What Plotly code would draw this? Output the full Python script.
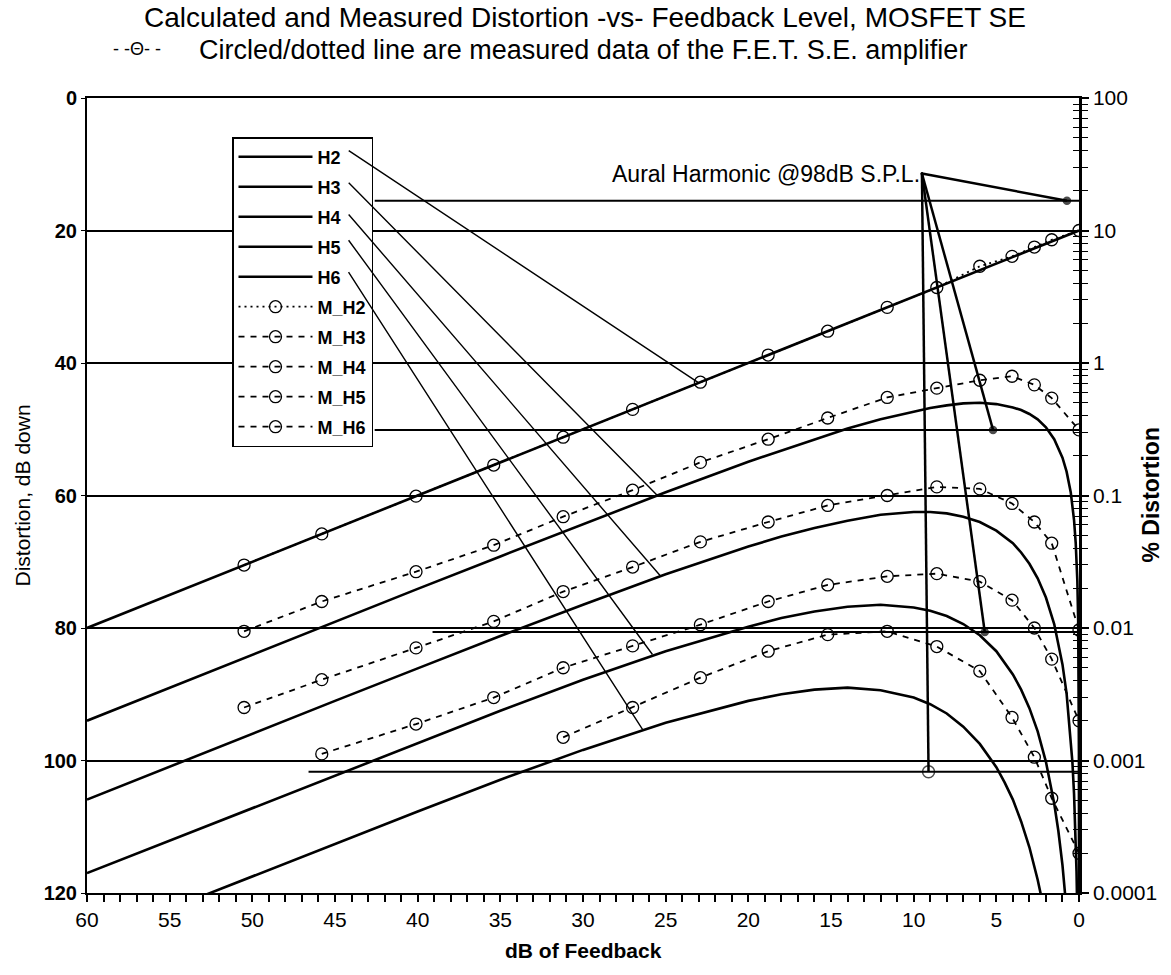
import plotly.graph_objects as go

# ---------------- data ----------------
# calculated harmonics (dB down) vs dB of feedback
H2_FB = [60, 0]
H2_DB = [80, 20]

H3_FB = [60, 55, 50, 45, 40, 35, 30, 25, 20, 18, 16, 14, 12, 10, 9, 8, 7, 6, 5, 4, 3.5, 3, 2.5, 2,
         1.5, 1, 0.75, 0.5, 0.3, 0.2, 0.1, 0.05, 0.02, 0.01, 0.005, 0.002, 0.001, 0.0005, 0.0003]
H3_DB = [94.0, 89.0, 84.0, 79.1, 74.1, 69.2, 64.3, 59.5, 54.9, 53.2, 51.5, 49.9, 48.5, 47.3, 46.8,
         46.4, 46.1, 46.0, 46.2, 46.7, 47.1, 47.7, 48.5, 49.7, 51.5, 54.3, 56.4, 59.5, 63.7, 67.1,
         72.9, 78.9, 86.8, 92.8, 98.8, 106.8, 112.8, 118.8, 123.2]

H4_FB = [60, 55, 50, 45, 40, 35, 30, 25, 20, 18, 16, 14, 12, 10, 9, 8, 7, 6, 5, 4, 3.5, 3, 2.5, 2,
         1.5, 1, 0.75, 0.5, 0.4, 0.3, 0.2, 0.15, 0.1]
H4_DB = [105.9, 100.9, 96.0, 91.0, 86.1, 81.2, 76.5, 71.9, 67.7, 66.2, 64.9, 63.8, 62.9, 62.5, 62.5,
         62.7, 63.2, 64.0, 65.3, 67.2, 68.6, 70.3, 72.5, 75.4, 79.4, 85.5, 89.9, 96.5, 100.2, 105.0,
         111.8, 116.7, 123.6]

H5_FB = [60, 55, 50, 45, 40, 35, 30, 25, 20, 18, 16, 14, 12, 10, 9, 8, 7, 6, 5, 4, 3.5, 3, 2.5, 2,
         1.5, 1.25, 1, 0.9, 0.75]
H5_DB = [117.0, 112.1, 107.1, 102.2, 97.3, 92.5, 87.8, 83.5, 79.8, 78.5, 77.5, 76.8, 76.5, 76.9,
         77.4, 78.2, 79.4, 81.1, 83.5, 87.0, 89.3, 92.1, 95.6, 100.2, 106.5, 110.6, 115.8, 118.3, 122.7]

H6_FB = [60, 55, 50, 45, 40, 35, 30, 25, 20, 18, 16, 14, 12, 10, 9, 8, 7, 6, 5, 4.5, 4, 3.5, 3,
         2.5, 2.25]
H6_DB = [127.3, 122.4, 117.4, 112.5, 107.7, 102.9, 98.4, 94.3, 91.0, 90.0, 89.3, 89.0, 89.4, 90.5,
         91.5, 92.9, 94.9, 97.5, 101.0, 103.3, 105.9, 109.2, 113.1, 118.0, 120.9]

# measured data
M_H2_FB = [50.5, 45.8, 40.1, 35.4, 31.2, 27.0, 22.9, 18.8, 15.2, 11.6, 8.6, 6.0, 4.05, 2.7, 1.65, 0.0]
M_H2_DB = [70.5, 65.8, 60.1, 55.4, 51.2, 47.0, 42.9, 38.8, 35.2, 31.6, 28.6, 25.4, 23.9, 22.5, 21.4, 20.0]
M_H3_FB = [50.5, 45.8, 40.1, 35.4, 31.2, 27.0, 22.9, 18.8, 15.2, 11.6, 8.6, 6.0, 4.05, 2.7, 1.65, 0.0]
M_H3_DB = [80.5, 76.0, 71.5, 67.5, 63.2, 59.2, 55.0, 51.5, 48.3, 45.2, 43.8, 42.6, 42.0, 43.3, 45.3, 50.1]
M_H4_FB = [50.5, 45.8, 40.1, 35.4, 31.2, 27.0, 22.9, 18.8, 15.2, 11.6, 8.6, 6.0, 4.05, 2.7, 1.65, 0.0]
M_H4_DB = [92.0, 87.8, 83.0, 79.0, 74.5, 70.8, 67.0, 64.0, 61.5, 60.0, 58.7, 59.0, 61.2, 64.0, 67.2, 80.3]
M_H5_FB = [45.8, 40.1, 35.4, 31.2, 27.0, 22.9, 18.8, 15.2, 11.6, 8.6, 6.0, 4.05, 2.7, 1.65, 0.0]
M_H5_DB = [99.0, 94.5, 90.5, 86.0, 82.7, 79.5, 76.0, 73.5, 72.2, 71.8, 73.0, 75.8, 80.0, 84.7, 94.0]
M_H6_FB = [31.2, 27.0, 22.9, 18.8, 15.2, 11.6, 8.6, 6.0, 4.05, 2.7, 1.65, 0.0]
M_H6_DB = [96.5, 92.0, 87.5, 83.5, 81.0, 80.5, 82.8, 86.5, 93.5, 99.5, 105.7, 114.0]

# aural harmonic @98dB SPL annotation
AURAL_LEVEL_DB = [15.5, 50.1, 80.6, 101.7]
AURAL_LINE_START_FB = [42.6, 42.6, 39.1, 46.6]
AURAL_POINT_FB = [0.73, 5.2, 5.7, 9.1]
AURAL_ANCHOR_FB = [9.5]
AURAL_ANCHOR_DB = [11.4]

# legend leader lines (legend label -> curve)
LEADER_START_FB = [44.2, 44.2, 44.2, 44.2, 44.2]
LEADER_START_DB = [7.9, 12.7, 17.5, 21.4, 26.2]
LEADER_END_FB = [23.0, 25.5, 25.3, 25.8, 26.4]
LEADER_END_DB = [43.0, 60.0, 72.2, 84.0, 95.3]

X_TICKS = [60, 55, 50, 45, 40, 35, 30, 25, 20, 15, 10, 5, 0]
Y_TICKS = [0, 20, 40, 60, 80, 100, 120]
PCT_TICKS = [100, 10, 1, 0.1, 0.01, 0.001, 0.0001]
PCT_LABELS = ["100", "10", "1", "0.1", "0.01", "0.001", "0.0001"]

# ---------------- figure ----------------
FONT = "Liberation Sans, Arial, sans-serif"
W, H = 1171, 975
PL, PR, PT, PB = 87, 1079, 98, 893   # plot area in page pixels
fig = go.Figure()

calc = [("H2", H2_FB, H2_DB), ("H3", H3_FB, H3_DB), ("H4", H4_FB, H4_DB),
        ("H5", H5_FB, H5_DB), ("H6", H6_FB, H6_DB)]
for name, fx, fy in calc:
    fig.add_trace(go.Scatter(x=fx, y=fy, mode="lines", name=name, legendgroup=name,
                             line=dict(color="black", width=2.6)))

meas = [("M_H2", M_H2_FB, M_H2_DB, "2px,4px"), ("M_H3", M_H3_FB, M_H3_DB, "6px,6px"),
        ("M_H4", M_H4_FB, M_H4_DB, "6px,6px"), ("M_H5", M_H5_FB, M_H5_DB, "6px,6px"),
        ("M_H6", M_H6_FB, M_H6_DB, "6px,6px")]
for name, fx, fy, dash in meas:
    fig.add_trace(go.Scatter(x=fx, y=fy, mode="lines+markers", name=name, legendgroup=name,
                             line=dict(color="black", width=1.8, dash=dash),
                             marker=dict(symbol="circle-open", size=12, color="black",
                                         line=dict(width=1.3, color="black"))))

# aural harmonic level lines and pointers
for i, lvl in enumerate(AURAL_LEVEL_DB):
    fig.add_trace(go.Scatter(x=[AURAL_LINE_START_FB[i], 0], y=[lvl, lvl], mode="lines",
                             showlegend=False, hoverinfo="skip",
                             line=dict(color="black", width=2)))
    last = i == len(AURAL_LEVEL_DB) - 1
    fig.add_trace(go.Scatter(x=[AURAL_ANCHOR_FB[0], AURAL_POINT_FB[i]],
                             y=[AURAL_ANCHOR_DB[0], lvl], mode="lines+markers",
                             showlegend=False, hoverinfo="skip",
                             line=dict(color="black", width=2.5),
                             marker=dict(symbol=["circle", "circle-open" if last else "circle"],
                                         size=[1, 12 if last else 7], color="black",
                                         line=dict(width=1.5, color="black"))))


def px_x(px):
    return (px - PL) / (PR - PL)


def px_y(py):
    return (PB - py) / (PB - PT)


annotations = []
for i in range(len(LEADER_END_FB)):
    annotations.append(dict(x=LEADER_END_FB[i], y=LEADER_END_DB[i], xref="x", yref="y",
                            ax=LEADER_START_FB[i], ay=LEADER_START_DB[i], axref="x", ayref="y",
                            text="", showarrow=True, arrowhead=0, arrowwidth=1.4,
                            arrowcolor="black", font=dict(size=1), borderpad=0))

annotations += [
    dict(text="Aural Harmonic @98dB S.P.L.", x=AURAL_ANCHOR_FB[0], y=AURAL_ANCHOR_DB[0],
         xref="x", yref="y", xanchor="right", yanchor="middle", showarrow=False,
         font=dict(family=FONT, size=23, color="black")),
    dict(text="- -Θ- -", x=px_x(111), y=px_y(49), xref="paper", yref="paper",
         xanchor="left", yanchor="middle", showarrow=False,
         font=dict(family=FONT, size=18, color="black")),
    dict(text="Circled/dotted line are measured data of the F.E.T. S.E. amplifier",
         x=px_x(197), y=px_y(50), xref="paper", yref="paper",
         xanchor="left", yanchor="middle", showarrow=False,
         font=dict(family=FONT, size=27, color="black")),
    dict(text="Distortion, dB down", x=px_x(22), y=0.5, xref="paper", yref="paper",
         textangle=-90, xanchor="center", yanchor="middle", showarrow=False,
         font=dict(family=FONT, size=21, color="black")),
    dict(text="<b>% Distortion</b>", x=px_x(1150), y=0.5, xref="paper", yref="paper",
         textangle=-90, xanchor="center", yanchor="middle", showarrow=False,
         font=dict(family=FONT, size=23, color="black")),
    dict(text="<b>dB of Feedback</b>", x=0.5, y=px_y(950), xref="paper", yref="paper",
         xanchor="center", yanchor="middle", showarrow=False,
         font=dict(family=FONT, size=21, color="black")),
]

fig.update_layout(
    width=W, height=H,
    paper_bgcolor="white", plot_bgcolor="white",
    margin=dict(l=PL, r=W - PR, t=PT, b=H - PB),
    title=dict(text="Calculated and Measured Distortion -vs- Feedback Level, MOSFET SE",
               x=585 / W, xanchor="center", y=1 - 17 / H, yanchor="middle",
               font=dict(family=FONT, size=28, color="black")),
    showlegend=True,
    legend=dict(x=px_x(232), y=px_y(137), xanchor="left", yanchor="top",
                bgcolor="white", bordercolor="black", borderwidth=1.5,
                font=dict(family=FONT, size=18, color="black", weight="bold"),
                tracegroupgap=3.6, itemwidth=74, traceorder="grouped"),
    annotations=annotations,
    xaxis=dict(range=[60, 0], tickmode="array", tickvals=X_TICKS,
               ticks="outside", ticklen=7, tickwidth=1.5, tickcolor="black",
               minor=dict(dtick=1, ticks="outside", ticklen=7, tickwidth=1.5, tickcolor="black"),
               showline=True, linecolor="black", linewidth=2, mirror=True,
               showgrid=False, zeroline=False,
               tickfont=dict(family=FONT, size=21, color="black")),
    yaxis=dict(range=[120, 0], tickmode="array", tickvals=Y_TICKS,
               ticks="outside", ticklen=4, tickcolor="black",
               showline=True, linecolor="black", linewidth=2,
               showgrid=True, gridcolor="black", gridwidth=1.5, zeroline=False,
               tickfont=dict(family=FONT, size=20, color="black", weight="bold")),
    yaxis2=dict(overlaying="y", side="right", type="log", range=[-4, 2],
                tickmode="array", tickvals=PCT_TICKS, ticktext=PCT_LABELS,
                ticks="outside", ticklen=7, tickwidth=1.5, tickcolor="black",
                minor=dict(dtick="D1", ticks="outside", ticklen=6, tickwidth=1.2, tickcolor="black"),
                showline=True, linecolor="black", linewidth=2.5,
                showgrid=False, zeroline=False,
                tickfont=dict(family=FONT, size=21, color="black")),
    yaxis3=dict(overlaying="y", side="right", type="log", range=[-4, 2],
                tickmode="array", tickvals=PCT_TICKS, showticklabels=False,
                ticks="inside", ticklen=7, tickwidth=1.5, tickcolor="black",
                minor=dict(dtick="D1", ticks="inside", ticklen=6, tickwidth=1.2, tickcolor="black"),
                showline=False, showgrid=False, zeroline=False),
)

# invisible traces to activate the right axes
fig.add_trace(go.Scatter(x=[0], y=[1], yaxis="y2", mode="markers", showlegend=False,
                         marker=dict(opacity=0), hoverinfo="skip"))
fig.add_trace(go.Scatter(x=[0], y=[1], yaxis="y3", mode="markers", showlegend=False,
                         marker=dict(opacity=0), hoverinfo="skip"))

# remove the default page margin so the figure sits at the window's top-left corner
fig.write_html("out.html", config={"displayModeBar": False},
               post_script="document.body.style.margin='0px';document.body.style.overflow='hidden';")
